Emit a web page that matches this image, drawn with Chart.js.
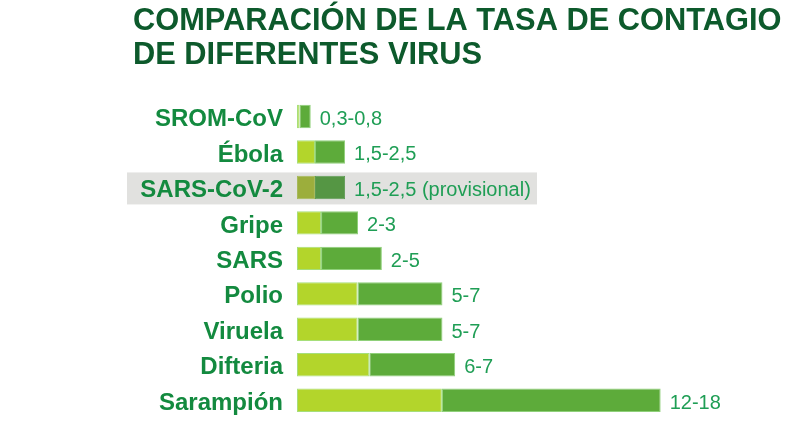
<!DOCTYPE html>
<html>
<head>
<meta charset="utf-8">
<script src="https://cdn.jsdelivr.net/npm/chart.js@4/dist/chart.umd.min.js"></script>
<style>
  html, body { margin: 0; padding: 0; background: #fff; }
  #wrap { width: 800px; height: 422px; }
</style>
</head>
<body>
<div id="wrap"><canvas id="chart"></canvas></div>
<script>
const virus = ["SROM-CoV", "Ébola", "SARS-CoV-2", "Gripe", "SARS", "Polio", "Viruela", "Difteria", "Sarampión"];
// bar lengths as drawn in the graphic (light part, then dark part on top of it)
const lightPart = [0.12, 0.89, 0.89, 1.19, 1.19, 3.0, 3.0, 3.58, 7.17];
const darkPart = [0.56, 1.49, 1.49, 1.83, 3.01, 4.2, 4.2, 4.25, 10.83];
const rateLabels = ["0,3-0,8", "1,5-2,5", "1,5-2,5 (provisional)", "2-3", "2-5", "5-7", "5-7", "6-7", "12-18"];
const highlighted = "SARS-CoV-2";

const hl = virus.indexOf(highlighted);

const highlightRow = {
  id: "highlightRow",
  beforeDraw(chart) {
    const ctx = chart.ctx;
    const y = chart.scales.y.getPixelForValue(hl);
    ctx.save();
    ctx.fillStyle = "#e1e1df";
    ctx.fillRect(127, y - 15, 410, 32);
    ctx.restore();
  },
};

const rateText = {
  id: "rateText",
  afterDatasetsDraw(chart) {
    const ctx = chart.ctx;
    const { x, y } = chart.scales;
    ctx.save();
    ctx.font = "20px 'Liberation Sans', Arial, sans-serif";
    ctx.fillStyle = "#1f9e55";
    ctx.textBaseline = "middle";
    ctx.textAlign = "left";
    rateLabels.forEach((t, i) => {
      const end = x.getPixelForValue(lightPart[i] + darkPart[i]);
      ctx.fillText(t, end + 9, y.getPixelForValue(i) + 3);
    });
    ctx.restore();
  },
};

new Chart(document.getElementById("chart"), {
  type: "bar",
  data: {
    labels: virus,
    datasets: [
      {
        data: lightPart,
        backgroundColor: (c) => (c.dataIndex === hl ? "#9cae3c" : "#b3d52b"),
        borderColor: (c) => (c.dataIndex === hl ? "#a6b95a" : "#a6df7a"),
        borderWidth: 1,
        borderSkipped: false,
      },
      {
        data: darkPart,
        backgroundColor: (c) => (c.dataIndex === hl ? "#559644" : "#5dab3a"),
        borderColor: (c) => (c.dataIndex === hl ? "#5f9c55" : "#8fd07a"),
        borderWidth: 1,
        borderSkipped: false,
      },
    ],
  },
  options: {
    indexAxis: "y",
    responsive: true,
    maintainAspectRatio: false,
    animation: false,
    layout: { padding: { left: 133, right: 5, top: 0, bottom: 4 } },
    plugins: {
      legend: { display: false },
      tooltip: { enabled: false },
      title: {
        display: true,
        text: ["COMPARACIÓN DE LA TASA DE CONTAGIO", "DE DIFERENTES VIRUS"],
        align: "start",
        color: "#0d5a2c",
        font: { family: "'Liberation Sans', Arial, sans-serif", size: 30.8, weight: "bold", lineHeight: 1.1 },
        padding: { top: 5, bottom: 26 },
      },
    },
    scales: {
      x: {
        stacked: true,
        display: false,
        min: 0,
        max: 24.65,
      },
      y: {
        stacked: true,
        grid: { display: false, drawTicks: true, tickLength: 14 },
        border: { display: false },
        ticks: {
          color: "#138a3f",
          padding: 0,
          labelOffset: 3,
          font: { family: "'Liberation Sans', Arial, sans-serif", size: 24, weight: "bold", lineHeight: 0.3 },
        },
        afterFit(scale) {
          scale.width = 164;
        },
      },
    },
    datasets: { bar: { barPercentage: 0.66, categoryPercentage: 1 } },
  },
  plugins: [highlightRow, rateText],
});
</script>
</body>
</html>
